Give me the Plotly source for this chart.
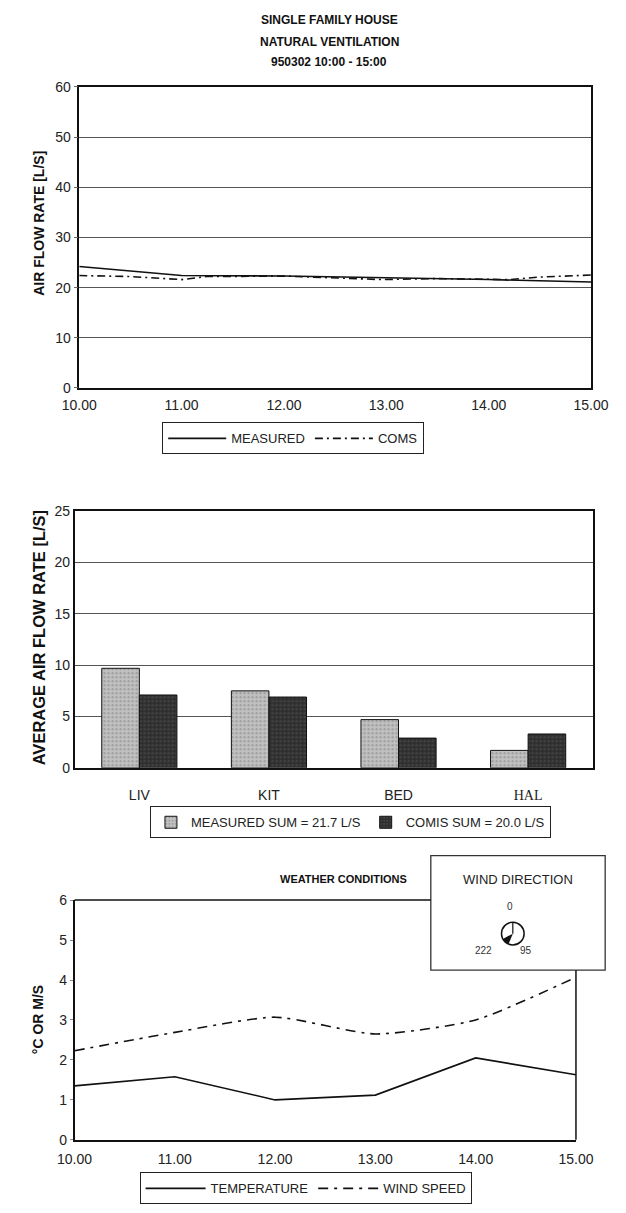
import plotly.graph_objects as go

W, H = 626, 1213
FONT = "Liberation Sans, Arial, sans-serif"

# ---------------- data ----------------
# Chart 1: air flow rate
meas_t = [10.0, 11.0, 12.0, 13.0, 14.0, 15.0]
meas_v = [24.2, 22.4, 22.3, 22.0, 21.6, 21.1]
comis_t = [10.0, 10.5, 11.0, 11.25, 12.0, 12.95, 13.5, 14.2, 14.5, 15.0]
comis_v = [22.4, 22.2, 21.6, 22.2, 22.3, 21.6, 21.8, 21.6, 22.1, 22.5]
time_ticks = [10, 11, 12, 13, 14, 15]
time_labels = ["10.00", "11.00", "12.00", "13.00", "14.00", "15.00"]

# Chart 2: average air flow rate per room
rooms = ["LIV", "KIT", "BED", "HAL"]
room_labels = ["LIV", "KIT", "BED",
               "<span style='font-family:Liberation Serif, Times New Roman, serif'>HAL</span>"]
avg_measured = [9.7, 7.5, 4.7, 1.7]
avg_comis = [7.1, 6.9, 2.9, 3.3]

# Chart 3: weather conditions
wx_t = [10, 11, 12, 13, 14, 15]
temperature = [1.35, 1.58, 1.0, 1.12, 2.05, 1.63]
wind_speed = [2.23, 2.69, 3.07, 2.65, 3.0, 4.07]
wind_dir = 222


def px(x):
    return x / W


def py(y):
    return 1 - y / H


fig = go.Figure()

# ---- chart 1 ----
fig.add_trace(go.Scatter(x=meas_t, y=meas_v, mode="lines", name="MEASURED",
                         line=dict(color="#111", width=1.6),
                         xaxis="x", yaxis="y", legend="legend"))
fig.add_trace(go.Scatter(x=comis_t, y=comis_v, mode="lines", name="COMS",
                         line=dict(color="#111", width=1.6, dash="8px,4px,2px,4px"),
                         xaxis="x", yaxis="y", legend="legend"))

# ---- chart 2 ----
fig.add_trace(go.Bar(x=rooms, y=avg_measured, name="MEASURED SUM = 21.7 L/S",
                     marker=dict(color="#bdbdbd", line=dict(color="#111", width=1),
                                 pattern=dict(shape=".", fgcolor="#7a7a7a", bgcolor="#c2c2c2",
                                              size=4, solidity=0.35)),
                     xaxis="x2", yaxis="y2", legend="legend2"))
fig.add_trace(go.Bar(x=rooms, y=avg_comis, name="COMIS SUM = 20.0 L/S",
                     marker=dict(color="#333", line=dict(color="#111", width=1),
                                 pattern=dict(shape=".", fgcolor="#5a5a5a", bgcolor="#2e2e2e",
                                              size=4, solidity=0.35)),
                     xaxis="x2", yaxis="y2", legend="legend2"))

# ---- chart 3 ----
fig.add_trace(go.Scatter(x=wx_t, y=temperature, mode="lines", name="TEMPERATURE",
                         line=dict(color="#111", width=1.6),
                         xaxis="x3", yaxis="y3", legend="legend3"))
fig.add_trace(go.Scatter(x=wx_t, y=wind_speed, mode="lines", name="WIND SPEED",
                         line=dict(color="#111", width=1.6, dash="10px,6px,3px,6px",
                                   shape="spline", smoothing=0.6),
                         xaxis="x3", yaxis="y3", legend="legend3"))

# ---- wind direction compass ----
fig.add_trace(go.Barpolar(r=[1], theta=[wind_dir], width=[40], marker=dict(color="#111",
                          line=dict(width=0)), showlegend=False, subplot="polar"))
fig.add_trace(go.Scatterpolar(r=[0, 1], theta=[0, 0], mode="lines",
                              line=dict(color="#111", width=1.2), showlegend=False,
                              subplot="polar"))

axis_common = dict(showline=True, linecolor="#111", linewidth=1.5,
                   tickfont=dict(family=FONT, size=14, color="#222"), zeroline=False)

legend_common = dict(orientation="h", xanchor="left", yanchor="top",
                     bordercolor="#222", borderwidth=1, bgcolor="white", tracegroupgap=0)

cx, cy, cr = 525, 938, 12

fig.update_layout(
    width=W, height=H, margin=dict(l=0, r=0, t=0, b=0),
    paper_bgcolor="white", plot_bgcolor="rgba(0,0,0,0)",
    font=dict(family=FONT, color="#222"),
    barmode="group", bargap=0.42, bargroupgap=0,
    xaxis=dict(domain=[px(65), px(608)], anchor="y", range=[10, 15],
               tickvals=time_ticks, ticktext=time_labels, mirror=True,
               showgrid=False, ticks="", ticklabelstandoff=4, **axis_common),
    yaxis=dict(domain=[py(385), py(80)], anchor="x", range=[0, 60], dtick=10,
               mirror=True, showgrid=True, gridcolor="#555", gridwidth=1,
               ticks="outside", ticklen=4, tickcolor="#666", **axis_common),
    xaxis2=dict(domain=[px(60), px(610)], anchor="y2", type="category",
                tickvals=rooms, ticktext=room_labels, mirror=True, showgrid=False,
                ticks="", ticklabelstandoff=14, **axis_common),
    yaxis2=dict(domain=[py(770), py(510)], anchor="x2", range=[0, 25], dtick=5,
                mirror=True, showgrid=True, gridcolor="#555", gridwidth=1,
                ticks="", **axis_common),
    xaxis3=dict(domain=[px(60), px(592)], anchor="y3", range=[10, 15],
                tickvals=time_ticks, ticktext=time_labels, mirror=False,
                showgrid=False, ticks="", ticklabelstandoff=6, **axis_common),
    yaxis3=dict(domain=[py(1147), py(904)], anchor="x3", range=[0, 6], dtick=1,
                mirror=False, showgrid=False, ticks="outside", ticklen=3,
                tickcolor="#888", **axis_common),
    polar=dict(domain=dict(x=[px(cx - cr), px(cx + cr)], y=[py(cy + cr), py(cy - cr)]),
               bgcolor="white", hole=0,
               angularaxis=dict(rotation=90, direction="clockwise", showticklabels=False,
                                ticks="", showgrid=False, showline=True,
                                linecolor="#111", linewidth=1.5),
               radialaxis=dict(visible=False, range=[0, 1])),
    legend=dict(x=px(153), y=py(420), itemwidth=58,
                font=dict(family=FONT, size=13, color="#222"), **legend_common),
    legend2=dict(x=px(140), y=py(809),
                 font=dict(family=FONT, size=13, color="#222"), **legend_common),
    legend3=dict(x=px(129), y=py(1180), itemwidth=60,
                 font=dict(family=FONT, size=13, color="#222"), **legend_common),
)

# chart 3 frame (top and right edges, partly hidden by the wind direction box)
box_l, box_r, box_t, box_b = 438, 623, 859, 975
fig.add_shape(type="line", xref="paper", yref="paper", x0=px(60), x1=px(box_l),
              y0=py(904), y1=py(904), line=dict(color="#111", width=1.5), layer="above")
fig.add_shape(type="line", xref="paper", yref="paper", x0=px(592), x1=px(592),
              y0=py(box_b), y1=py(1147), line=dict(color="#111", width=1.5), layer="above")
fig.add_shape(type="rect", xref="paper", yref="paper", x0=px(box_l), x1=px(box_r),
              y0=py(box_b), y1=py(box_t), line=dict(color="#333", width=1.3),
              fillcolor="white", layer="below")


def note(text, x, y, size, angle=0, color="#111"):
    return dict(text=text, x=px(x), y=py(y), xref="paper", yref="paper",
                xanchor="center", yanchor="middle", textangle=angle, showarrow=False,
                font=dict(size=size, family=FONT, color=color))


ann = []
for txt, yy in [("SINGLE FAMILY HOUSE", 12), ("NATURAL VENTILATION", 34),
                ("950302 10:00 - 15:00", 55)]:
    ann.append(note("<b>" + txt + "</b>", 330, yy, 12))
ann.append(note("<b>AIR FLOW RATE [L/S]</b>", 22, 218, 14, angle=-90))
ann.append(note("<b>AVERAGE AIR FLOW RATE [L/S]</b>", 22, 638, 16.5, angle=-90))
ann.append(note("<b>°C OR M/S</b>", 22, 1025, 14, angle=-90))
ann.append(note("<b>WEATHER CONDITIONS</b>", 345, 883, 11))
ann.append(note("WIND DIRECTION", 530, 883, 13, color="#222"))
ann.append(note("0", 522, 911, 10, color="#333"))
ann.append(note(str(wind_dir), 494, 955, 10, color="#333"))
ann.append(note("95", 539, 955, 10, color="#333"))
fig.update_layout(annotations=ann)

fig.write_html("out.html")
